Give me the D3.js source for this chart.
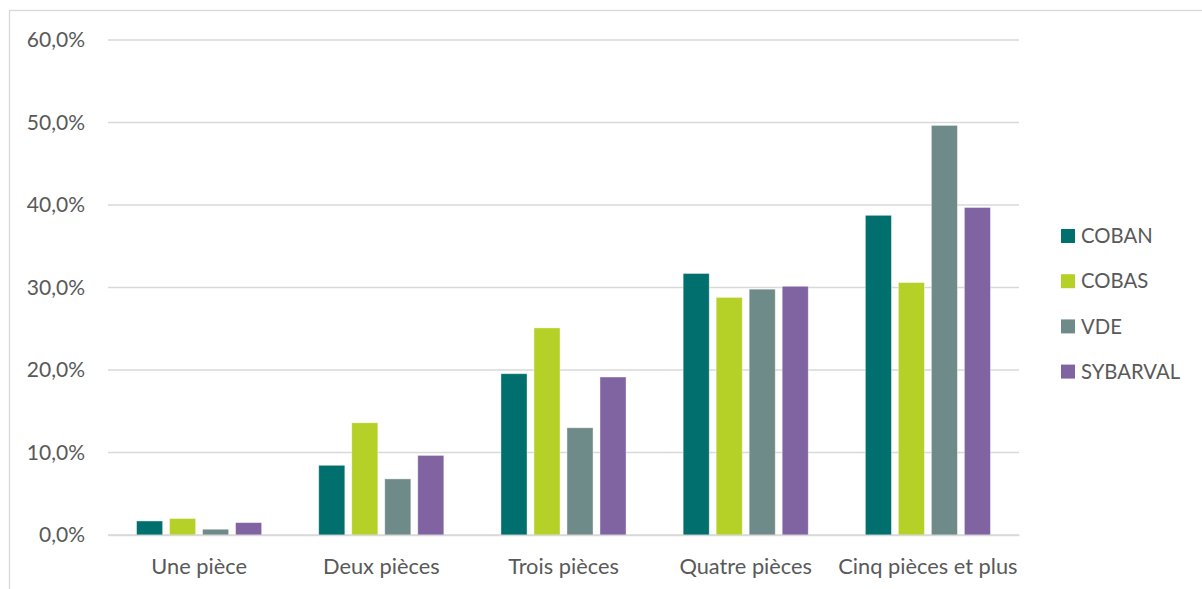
<!DOCTYPE html>
<html>
<head>
    <meta charset="utf-8">
    <title>Typologie des logements</title>
    <style type="text/css">
        body { margin: 0; background: #fff; }
        .axis text, .legend text {
            font-family: Lato, sans-serif;
            fill: #595959;
        }
        .grid line { stroke: #d9d9d9; stroke-width: 1.3; }
    </style>
</head>
<body>
<svg id="chart" width="1202" height="589"></svg>

<script src="https://cdnjs.cloudflare.com/ajax/libs/d3/7.8.5/d3.min.js"></script>
<script type="text/javascript">
    /*=========DATA=========*/
    var categories = ['Une pièce', 'Deux pièces', 'Trois pièces', 'Quatre pièces', 'Cinq pièces et plus'];
    var seriesNames = ['COBAN', 'COBAS', 'VDE', 'SYBARVAL'];
    var coban    = [1.7, 8.45, 19.55, 31.7, 38.75];
    var cobas    = [2.0, 13.6, 25.1, 28.8, 30.6];
    var vde      = [0.7, 6.8, 13.0, 29.8, 49.65];
    var sybarval = [1.5, 9.65, 19.15, 30.15, 39.7];
    var yTicks   = [0, 10, 20, 30, 40, 50, 60];

    var seriesValues = [coban, cobas, vde, sybarval];
    var colors = ['#006f6e', '#b5d026', '#6e8b8a', '#8064a2'];

    /*=========SIZE=========*/
    var margin = { top: 40, right: 183, bottom: 54, left: 108 };
    var svgWidth = 1202, svgHeight = 589;
    var width = svgWidth - margin.left - margin.right;
    var height = svgHeight - margin.top - margin.bottom;

    var svg = d3.select('#chart');

    // cadre
    svg.append('rect')
        .attr('x', 9.5).attr('y', 10.5)
        .attr('width', 1200).attr('height', 600)
        .attr('fill', 'none')
        .attr('stroke', '#d9d9d9')
        .attr('stroke-width', 1.3);

    var g = svg.append('g')
        .attr('transform', 'translate(' + margin.left + ',' + margin.top + ')');

    // échelles
    var x0 = d3.scaleBand().domain(categories).range([0, width]).padding(0);
    var x1 = d3.scaleBand().domain(seriesNames).range([0, x0.bandwidth()])
        .paddingInner(0.21).paddingOuter(0.865);
    var y = d3.scaleLinear().domain([0, 60]).range([height, 0]);

    // grille
    g.append('g').attr('class', 'grid')
        .selectAll('line').data(yTicks).enter().append('line')
        .attr('x1', 0).attr('x2', width)
        .attr('y1', d => y(d)).attr('y2', d => y(d));

    // axe Y
    var fmt = d => d3.format('.1f')(d).replace('.', ',') + '%';
    var yAxis = d3.axisLeft(y).tickValues(yTicks).tickFormat(fmt).tickSize(0).tickPadding(23);
    g.append('g').attr('class', 'axis yAxis').call(yAxis)
        .call(s => s.select('.domain').remove())
        .selectAll('text').style('font-size', '21px');

    // barres
    var groups = g.selectAll('.cat').data(categories).enter().append('g')
        .attr('class', 'cat')
        .attr('transform', d => 'translate(' + x0(d) + ',0)');

    groups.selectAll('rect')
        .data((c, i) => seriesNames.map((s, j) => ({ s: s, j: j, v: seriesValues[j][i] })))
        .enter().append('rect')
        .attr('x', d => x1(d.s))
        .attr('width', x1.bandwidth())
        .attr('y', d => y(d.v))
        .attr('height', d => height - y(d.v))
        .attr('fill', d => colors[d.j])
        .attr('stroke', '#ffffff')
        .attr('stroke-opacity', 0.5)
        .attr('stroke-width', 0.8);

    // axe X
    var xAxis = d3.axisBottom(x0).tickSize(0).tickPadding(24);
    g.append('g').attr('class', 'axis xAxis')
        .attr('transform', 'translate(0,' + height + ')')
        .call(xAxis)
        .call(s => s.select('.domain').attr('stroke', '#d9d9d9').attr('stroke-width', 1.3))
        .selectAll('text').style('font-size', '21.8px');

    // légende
    var legend = svg.append('g').attr('class', 'legend')
        .attr('transform', 'translate(1061,229)');
    var items = legend.selectAll('g').data(seriesNames).enter().append('g')
        .attr('transform', (d, i) => 'translate(0,' + (i * 45.2) + ')');
    items.append('rect')
        .attr('width', 14).attr('height', 14)
        .attr('fill', (d, i) => colors[i]);
    items.append('text')
        .attr('x', 20).attr('y', 7).attr('dy', '0.35em')
        .style('font-size', '20.3px')
        .text(d => d);
</script>
</body>
</html>
